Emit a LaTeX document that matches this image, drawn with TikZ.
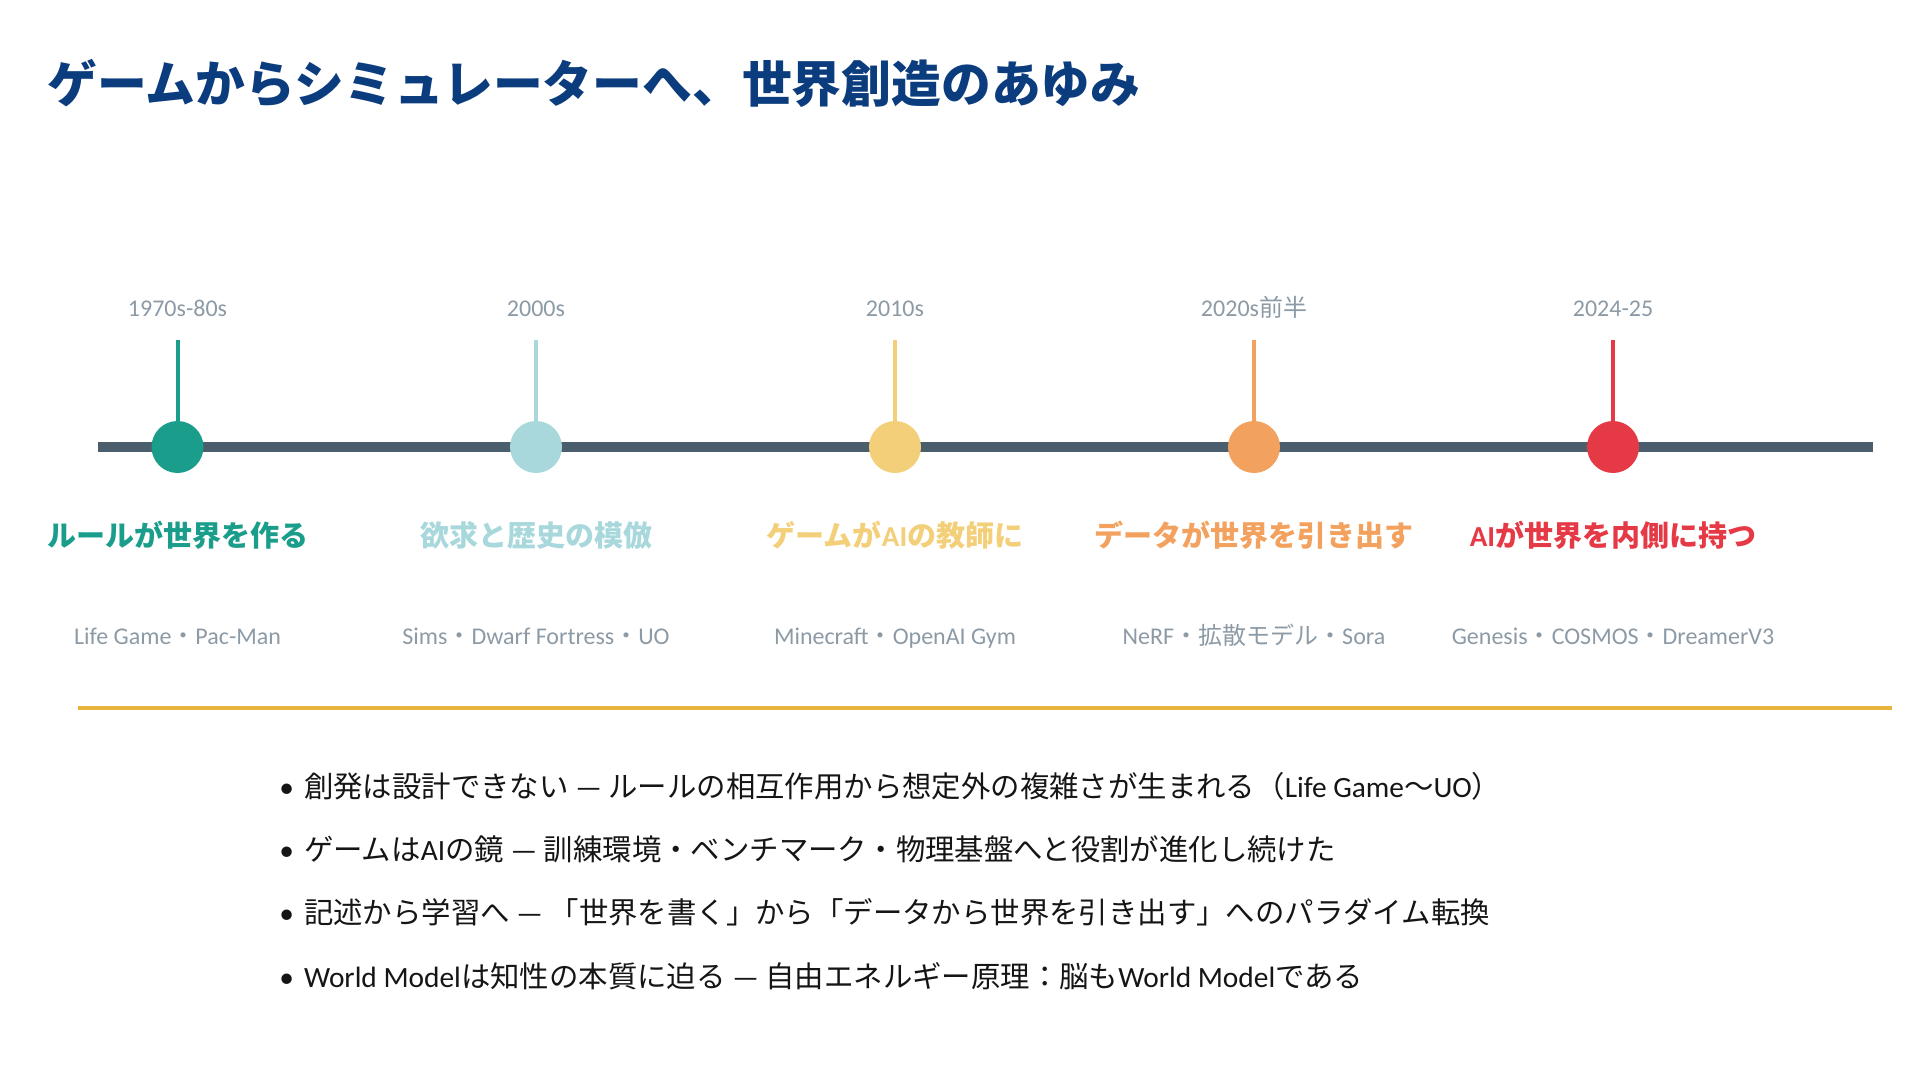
\documentclass[tikz,border=0pt]{standalone}
\usepackage{fontspec}
\setmainfont{Noto Sans CJK JP}
\newfontfamily\lat{Carlito}
\definecolor{navy}{HTML}{0B3C7D}
\definecolor{axis}{HTML}{4A5E6D}
\definecolor{cA}{HTML}{1A9E8B}
\definecolor{cB}{HTML}{A8D8DC}
\definecolor{cC}{HTML}{F4CF7A}
\definecolor{cD}{HTML}{F2A25E}
\definecolor{cE}{HTML}{E63946}
\definecolor{graytxt}{HTML}{8C9AA6}
\definecolor{gold}{HTML}{E8B43C}
\definecolor{bodytxt}{HTML}{151515}
\tikzset{
  yearlbl/.style={font=\lat\fontsize{12}{14}\selectfont, text=graytxt, inner sep=0pt, anchor=base},
  headlbl/.style={font=\bfseries\fontsize{14.5}{17}\selectfont, inner sep=0pt},
  sublbl/.style={font=\fontsize{12}{14}\selectfont, text=graytxt, inner sep=0pt, anchor=base},
  bullbl/.style={font=\fontsize{14.7}{17}\selectfont, text=bodytxt, anchor=west, inner sep=0pt},
  dot/.style={circle, minimum size=26pt, inner sep=0pt, fill=#1},
  stem/.style={line width=2pt, draw=#1},
}
\begin{document}
\begin{tikzpicture}[x=0.5pt, y=-0.5pt]
\useasboundingbox (0,0) rectangle (1920,1080);
% title
\node[anchor=west, inner sep=0pt, text=navy, font=\bfseries\fontsize{24.9}{28}\selectfont] (title) at (47,83) {ゲームからシミュレーターへ、世界創造のあゆみ};
% axis
\coordinate (axL) at (98,447);
\coordinate (axR) at (1873,447);
\draw[line width=5pt, draw=axis] (axL) -- (axR);
% milestones
\foreach \n/\x/\c in {a/177.5/cA, b/536/cB, c/895/cC, d/1254/cD, e/1613/cE}{
  \coordinate (top\n) at (\x,340);
  \node[dot=\c] (dot\n) at (\x,447) {};
  \draw[stem=\c] (top\n) -- (dot\n.north);
}
% years
\node[yearlbl] (ya) at (177.5,316.5) {1970s-80s};
\node[yearlbl] (yb) at (536,316.5) {2000s};
\node[yearlbl] (yc) at (895,316.5) {2010s};
\node[yearlbl] (yd) at (1254,316.5) {2020s\normalfont\fontsize{12}{14}\selectfont\color{graytxt}前半};
\node[yearlbl] (ye) at (1613,316.5) {2024-25};
% headings
\node[headlbl, text=cA] (ha) at (177.5,535) {ルールが世界を作る};
\node[headlbl, text=cB] (hb) at (536,535) {欲求と歴史の模倣};
\node[headlbl, text=cC] (hc) at (895,535) {ゲームが{\lat AI}の教師に};
\node[headlbl, text=cD] (hd) at (1254,535) {データが世界を引き出す};
\node[headlbl, text=cE] (he) at (1613,535) {{\lat AI}が世界を内側に持つ};
% sub labels
\node[sublbl] (sa) at (177.5,644) {{\lat Life Game}・{\lat Pac-Man}};
\node[sublbl] (sb) at (536,644) {{\lat Sims}・{\lat Dwarf Fortress}・{\lat UO}};
\node[sublbl] (sc) at (895,644) {{\lat Minecraft}・{\lat OpenAI Gym}};
\node[sublbl] (sd) at (1254,644) {{\lat NeRF}・拡散モデル・{\lat Sora}};
\node[sublbl] (se) at (1613,644) {{\lat Genesis}・{\lat COSMOS}・{\lat DreamerV3}};
% separator
\coordinate (sepL) at (78,708);
\coordinate (sepR) at (1892,708);
\draw[line width=2pt, draw=gold] (sepL) -- (sepR);
% bullets
\node[bullbl] (b1) at (279,786) {{\lat •}\hspace{5pt}創発は設計できない{\lat\ —\ }ルールの相互作用から想定外の複雑さが生まれる（{\lat Life Game}〜{\lat UO}）};
\node[bullbl] (b2) at (279,849) {{\lat •}\hspace{5pt}ゲームは{\lat AI}の鏡{\lat\ —\ }訓練環境・ベンチマーク・物理基盤へと役割が進化し続けた};
\node[bullbl] (b3) at (279,912) {{\lat •}\hspace{5pt}記述から学習へ{\lat\ —\ }「世界を書く」から「データから世界を引き出す」へのパラダイム転換};
\node[bullbl] (b4) at (279,976) {{\lat •}\hspace{5pt}{\lat World Model}は知性の本質に迫る{\lat\ —\ }自由エネルギー原理：脳も{\lat World Model}である};
\end{tikzpicture}
\end{document}
